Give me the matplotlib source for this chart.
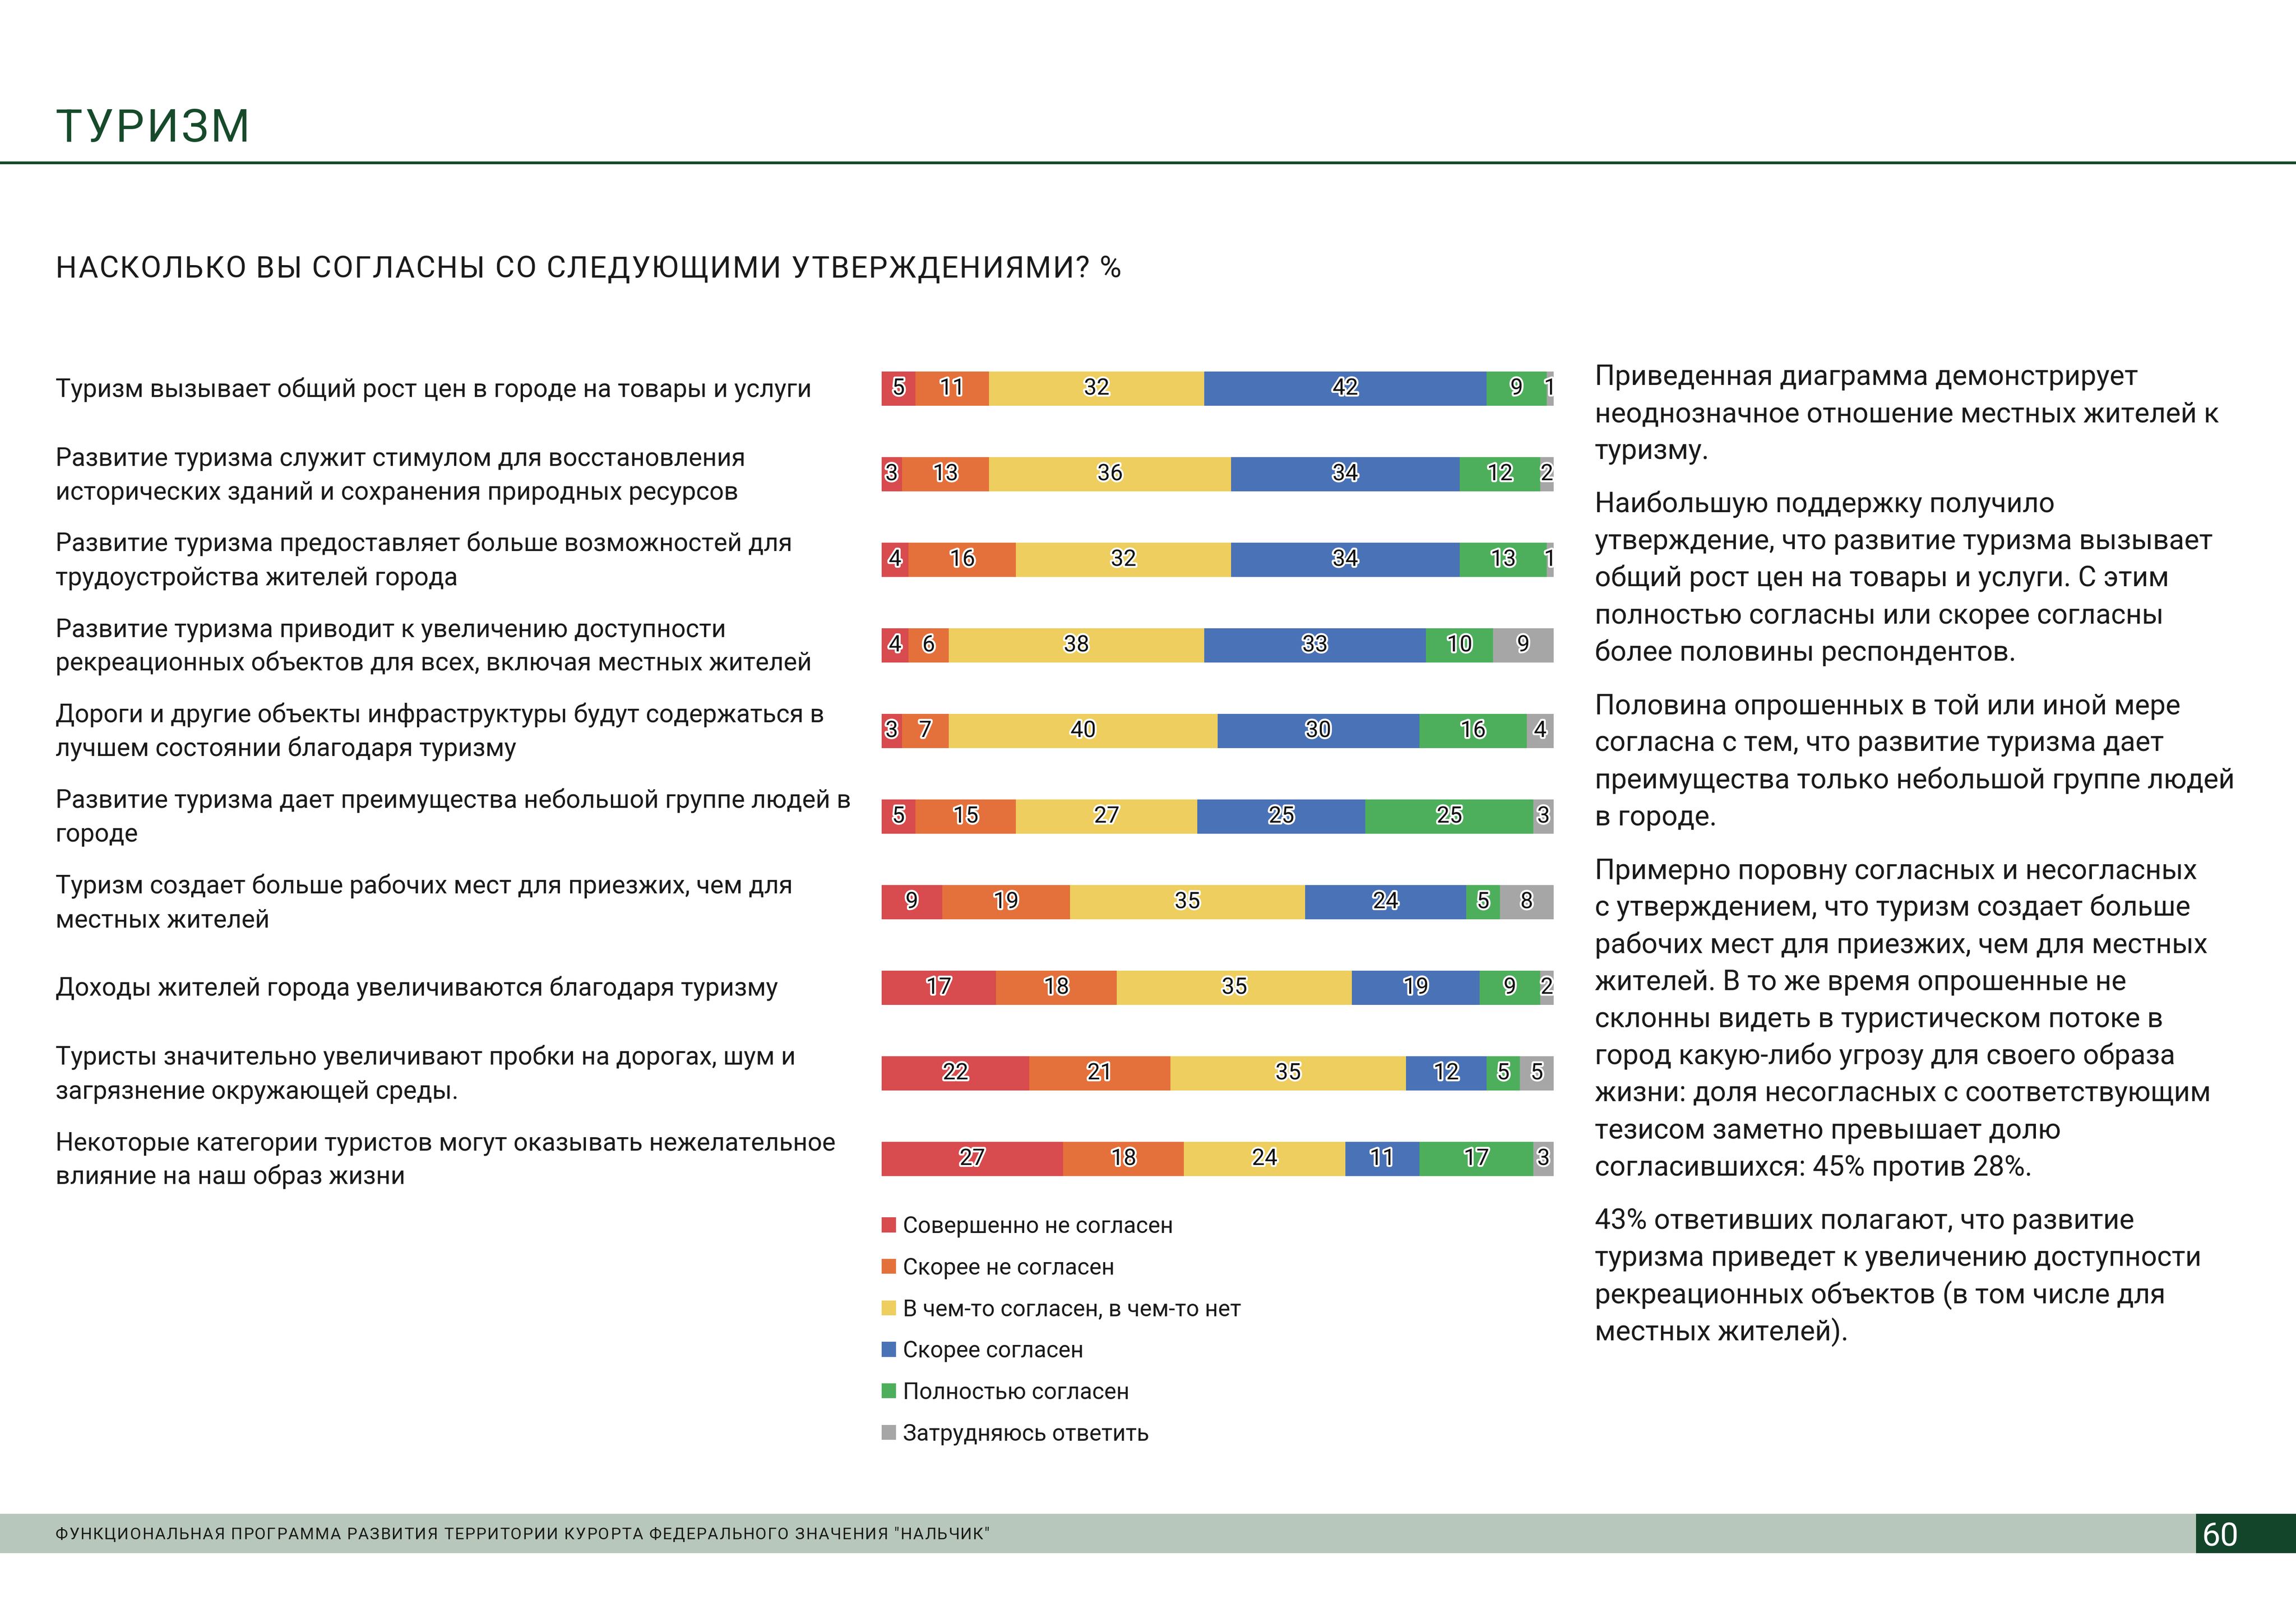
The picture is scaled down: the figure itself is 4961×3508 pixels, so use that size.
import matplotlib
matplotlib.use('Agg')
import matplotlib.pyplot as plt
import matplotlib.patheffects as pe
from matplotlib.patches import Rectangle, Patch
import numpy as np

# ── Data ──────────────────────────────────────────────────────────────────────
statements = [
    'Туризм вызывает общий рост цен в городе на товары и услуги',
    'Развитие туризма служит стимулом для восстановления\nисторических зданий и сохранения природных ресурсов',
    'Развитие туризма предоставляет больше возможностей для\nтрудоустройства жителей города',
    'Развитие туризма приводит к увеличению доступности\nрекреационных объектов для всех, включая местных жителей',
    'Дороги и другие объекты инфраструктуры будут содержаться в\nлучшем состоянии благодаря туризму',
    'Развитие туризма дает преимущества небольшой группе людей в\nгороде',
    'Туризм создает больше рабочих мест для приезжих, чем для\nместных жителей',
    'Доходы жителей города увеличиваются благодаря туризму',
    'Туристы значительно увеличивают пробки на дорогах, шум и\nзагрязнение окружающей среды.',
    'Некоторые категории туристов могут оказывать нежелательное\nвлияние на наш образ жизни',
]
answers = ['Совершенно не согласен', 'Скорее не согласен',
           'В чем-то согласен, в чем-то нет', 'Скорее согласен',
           'Полностью согласен', 'Затрудняюсь ответить']
strongly_disagree = [5, 3, 4, 4, 3, 5, 9, 17, 22, 27]
rather_disagree   = [11, 13, 16, 6, 7, 15, 19, 18, 21, 18]
partly_agree      = [32, 36, 32, 38, 40, 27, 35, 35, 35, 24]
rather_agree      = [42, 34, 34, 33, 30, 25, 24, 19, 12, 11]
fully_agree       = [9, 12, 13, 10, 16, 25, 5, 9, 5, 17]
hard_to_say       = [1, 2, 1, 9, 4, 3, 8, 2, 5, 3]
series = [strongly_disagree, rather_disagree, partly_agree,
          rather_agree, fully_agree, hard_to_say]

comment = [
    ['Приведенная диаграмма демонстрирует',
     'неоднозначное отношение местных жителей к',
     'туризму.'],
    ['Наибольшую поддержку получило',
     'утверждение, что развитие туризма вызывает',
     'общий рост цен на товары и услуги. С этим',
     'полностью согласны или скорее согласны',
     'более половины респондентов.'],
    ['Половина опрошенных в той или иной мере',
     'согласна с тем, что развитие туризма дает',
     'преимущества только небольшой группе людей',
     'в городе.'],
    ['Примерно поровну согласных и несогласных',
     'с утверждением, что туризм создает больше',
     'рабочих мест для приезжих, чем для местных',
     'жителей. В то же время опрошенные не',
     'склонны видеть в туристическом потоке в',
     'город какую-либо угрозу для своего образа',
     'жизни: доля несогласных с соответствующим',
     'тезисом заметно превышает долю',
     'согласившихся: 45% против 28%.'],
    ['43% ответивших полагают, что развитие',
     'туризма приведет к увеличению доступности',
     'рекреационных объектов (в том числе для',
     'местных жителей).'],
]

# ── Colors ────────────────────────────────────────────────────────────────────
COLORS = ['#D84B4E', '#E4713B', '#EDCE5E', '#4A72B6', '#4DAF5B', '#A6A6A6']
DGREEN = '#164A2B'
BAND   = '#B8C7BC'
TXT    = '#1A1A1A'
FONT   = 'Roboto'

W, H, DPI = 4961, 3508, 300
plt.rcParams['font.family'] = [FONT, 'DejaVu Sans']

fig = plt.figure(figsize=(W / DPI, H / DPI), dpi=DPI)
fig.patch.set_facecolor('white')

# overlay in pixel coordinates for page furniture
ov = fig.add_axes([0, 0, 1, 1])
ov.set_xlim(0, W)
ov.set_ylim(H, 0)
ov.axis('off')
renderer = fig.canvas.get_renderer()


def text_w(s, **kw):
    t = ov.text(0, 0, s, **kw)
    w = t.get_window_extent(renderer=renderer).width
    t.remove()
    return w


def spaced(x, y, s, spacing, **kw):
    bar_w = text_w('|', **kw)
    for i, ch in enumerate(s):
        if ch == ' ':
            continue
        off = text_w(s[:i] + '|', **kw) - bar_w if i else 0
        ov.text(x + off + i * spacing, y, ch, **kw)


# ── Header ────────────────────────────────────────────────────────────────────
spaced(120, 306, 'ТУРИЗМ', 5, fontsize=23.5, color=DGREEN, va='baseline')
ov.add_patch(Rectangle((0, 349), W, 6, color=DGREEN, lw=0))
spaced(120, 600, 'НАСКОЛЬКО ВЫ СОГЛАСНЫ СО СЛЕДУЮЩИМИ УТВЕРЖДЕНИЯМИ? %', 2.8,
       fontsize=15.5, color=TXT, va='baseline')

# ── Statement labels ──────────────────────────────────────────────────────────
ROW0, ROW_STEP, LINE = 840, 185, 73
for i, s in enumerate(statements):
    lines = s.split('\n')
    n = len(lines)
    for k, ln in enumerate(lines):
        yb = ROW0 + i * ROW_STEP + 18 + (k - (n - 1) / 2) * LINE
        ov.text(120, yb, ln, fontsize=13.2, color=TXT, va='baseline', ha='left')

# ── Stacked bars ──────────────────────────────────────────────────────────────
top_px = ROW0 - ROW_STEP / 2
bot_px = ROW0 + 9 * ROW_STEP + ROW_STEP / 2
ax = fig.add_axes([1905 / W, 1 - bot_px / H, (3357 - 1905) / W,
                   (bot_px - top_px) / H])
ax.set_xlim(0, 100)
ax.set_ylim(len(statements) - 0.5, -0.5)
ax.axis('off')
ypos = np.arange(len(statements))
left = np.zeros(len(statements))
handles = []
for vals, col, name in zip(series, COLORS, answers):
    vals = np.array(vals, dtype=float)
    ax.barh(ypos, vals, left=left, height=0.405, color=col, lw=0)
    for y, v, l in zip(ypos, vals, left):
        ax.text(l + v / 2, y, f'{v:.0f}', ha='center', va='center',
                fontsize=11.8, color='#111111',
                path_effects=[pe.withStroke(linewidth=2, foreground='white')])
    left += vals
    handles.append(Patch(facecolor=col, edgecolor='none', label=name))

ax.legend(handles=handles, loc='upper left',
          bbox_to_anchor=(1905 / W, 1 - 2627 / H), bbox_transform=fig.transFigure,
          frameon=False, fontsize=11.9, handlelength=0.62, handleheight=0.62,
          handletextpad=0.3, labelspacing=0.84, borderpad=0, borderaxespad=0,
          labelcolor=TXT)

# ── Commentary ────────────────────────────────────────────────────────────────
yb = 832
for para in comment:
    for ln in para:
        ov.text(3446, yb, ln, fontsize=14.6, color=TXT, va='baseline')
        yb += 80.2
    yb += 35

# ── Footer ────────────────────────────────────────────────────────────────────
ov.add_patch(Rectangle((0, 3272), W, 85, color=BAND, lw=0))
ov.add_patch(Rectangle((4745, 3272), W - 4745, 85, color='#13452A', lw=0))
spaced(120, 3327, 'ФУНКЦИОНАЛЬНАЯ ПРОГРАММА РАЗВИТИЯ ТЕРРИТОРИИ КУРОРТА ФЕДЕРАЛЬНОГО ЗНАЧЕНИЯ "НАЛЬЧИК"',
       2.3, fontsize=8.4, color=TXT, va='baseline')
ov.text(4757, 3341, '60', fontsize=17, color='white', va='baseline')

fig.savefig('out.png', dpi=DPI, facecolor='white')
